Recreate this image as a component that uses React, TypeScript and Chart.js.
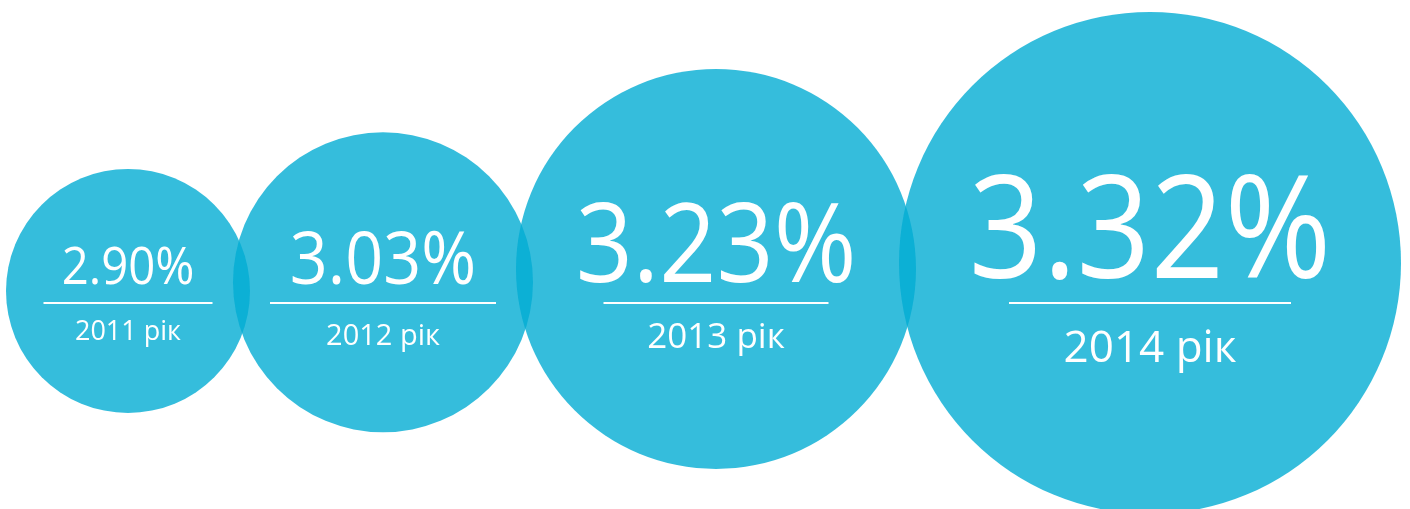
import React, { useEffect, useRef } from "react";
import { Chart, registerables } from "chart.js";

Chart.register(...registerables);

// ---- data ----
const years = ["2011", "2012", "2013", "2014"];
const yearSuffix = " рік";
const rates = [2.9, 3.03, 3.23, 3.32];
const bubbleRadius = [122, 150, 200, 251];

// ---- layout / style (not data) ----
const CANVAS_W = 1410;
const CANVAS_H = 509;
const LEFT_MARGIN = 6;
const OVERLAP = 17;
const Y_MIN = -0.37;
const Y_MAX = 7.263;
const RULE_Y = 303;
const FILL = "rgba(3,172,211,0.8)";
const FONT = "'Open Sans', 'Noto Sans', sans-serif";
const PCT_SQUEEZE = 0.91;
const labelStyles = [
  { pct: 52, year: 27, rule: 169, pctGap: 19, yearGap: 37 },
  { pct: 73, year: 29, rule: 226, pctGap: 19, yearGap: 42 },
  { pct: 110, year: 35, rule: 225, pctGap: 21, yearGap: 45 },
  { pct: 142, year: 44, rule: 282, pctGap: 25, yearGap: 59 },
];

// x positions derived from the radii: each bubble overlaps the previous one slightly
function bubbleXs(radii: number[]): number[] {
  const xs: number[] = [];
  radii.forEach((r, i) => {
    if (i === 0) xs.push(LEFT_MARGIN + r);
    else xs.push(xs[i - 1] + radii[i - 1] + r - OVERLAP);
  });
  return xs;
}

const labelPlugin = {
  id: "bubbleLabels",
  afterDatasetsDraw(chart: any) {
    const { ctx, chartArea } = chart;
    const meta = chart.getDatasetMeta(0);
    meta.data.forEach((el: any, i: number) => {
      const s = labelStyles[i];
      const cx = el.x;
      const ruleY = chartArea.top + RULE_Y;
      ctx.save();
      ctx.fillStyle = "#ffffff";
      ctx.strokeStyle = "#ffffff";
      ctx.textAlign = "center";
      ctx.textBaseline = "alphabetic";
      // percentage
      ctx.save();
      ctx.translate(cx, ruleY - s.pctGap);
      ctx.scale(PCT_SQUEEZE, 1);
      ctx.font = `400 ${s.pct}px ${FONT}`;
      ctx.fillText(rates[i].toFixed(2) + "%", 0, 0);
      ctx.restore();
      // rule
      ctx.lineWidth = 2;
      ctx.beginPath();
      ctx.moveTo(cx - s.rule / 2, ruleY);
      ctx.lineTo(cx + s.rule / 2, ruleY);
      ctx.stroke();
      // year
      ctx.font = `400 ${s.year}px ${FONT}`;
      ctx.fillText(years[i] + yearSuffix, cx, ruleY + s.yearGap);
      ctx.restore();
    });
  },
};

export default function App() {
  const ref = useRef<HTMLCanvasElement | null>(null);
  useEffect(() => {
    if (!ref.current) return;
    const xs = bubbleXs(bubbleRadius);
    const chart = new Chart(ref.current, {
      type: "bubble",
      data: {
        datasets: [
          {
            data: rates.map((v, i) => ({ x: xs[i], y: v, r: bubbleRadius[i] })),
            backgroundColor: FILL,
            borderWidth: 0,
            hoverBorderWidth: 0,
            clip: false as any,
          },
        ],
      },
      options: {
        animation: false,
        responsive: true,
        maintainAspectRatio: false,
        layout: { padding: 0, autoPadding: false },
        plugins: { legend: { display: false }, tooltip: { enabled: false } },
        events: [],
        scales: {
          x: { type: "linear", display: false, min: 0, max: CANVAS_W },
          y: { type: "linear", display: false, min: Y_MIN, max: Y_MAX },
        },
      },
      plugins: [labelPlugin],
    });
    return () => chart.destroy();
  }, []);
  return (
    <div
      style={{
        position: "fixed",
        left: 0,
        top: 0,
        width: CANVAS_W,
        height: CANVAS_H,
        background: "#ffffff",
      }}
    >
      <canvas ref={ref} />
    </div>
  );
}
